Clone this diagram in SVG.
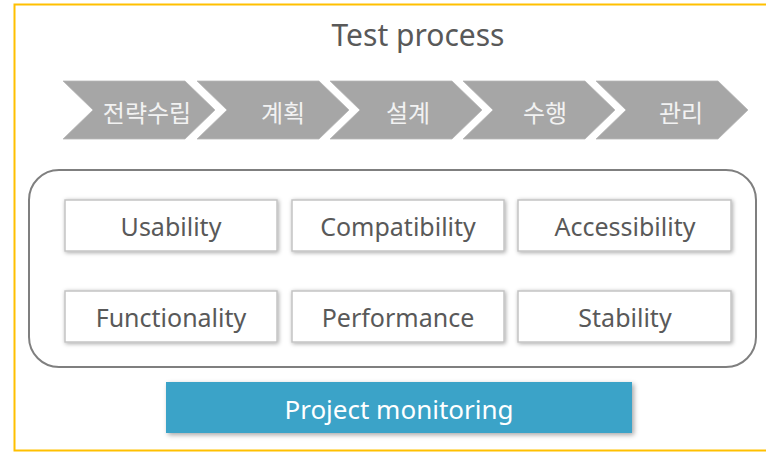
<svg xmlns="http://www.w3.org/2000/svg" width="766" height="453" viewBox="0 0 766 453">
<style>
.title{font-family:"Noto Sans","Noto Sans CJK KR",sans-serif;font-size:30px;fill:#595959;text-anchor:middle}
.chev{fill:#A6A6A6;stroke:#B8B8B8;stroke-width:0.8}
.ctext{font-family:"Noto Sans CJK KR",sans-serif;font-size:24px;fill:#F2F2F2;text-anchor:middle}
.box{fill:#FFFFFF;stroke:#C4C4C4;stroke-width:1.5;filter:url(#sh)}
.btext{font-family:"Noto Sans","Noto Sans CJK KR",sans-serif;font-size:25px;fill:#595959;text-anchor:middle}
.mon{fill:#3AA3C8;filter:url(#sh2)}
.mtext{font-family:"Noto Sans","Noto Sans CJK KR",sans-serif;font-size:26px;fill:#FFFFFF;text-anchor:middle}
</style>
<defs>
<filter id="sh" x="-10%" y="-20%" width="120%" height="140%">
<feDropShadow dx="1" dy="1" stdDeviation="2" flood-color="#000" flood-opacity="0.35"/>
</filter>
<filter id="sh2" x="-10%" y="-20%" width="120%" height="150%">
<feDropShadow dx="2" dy="2" stdDeviation="2.5" flood-color="#000" flood-opacity="0.35"/>
</filter>
</defs>
<rect x="0" y="0" width="766" height="453" fill="#FFFFFF"/>
<rect x="14.5" y="4.5" width="760" height="446" fill="none" stroke="#FFC000" stroke-width="2"/>
<text class="title" x="418" y="46">Test process</text>

<g id="step1"><polygon class="chev" points="63,81 185,81 215,110 185,139 63,139 93,110"/><text class="ctext" x="147" y="122">전략수립</text></g>
<g id="step2"><polygon class="chev" points="197,81 319,81 349,110 319,139 197,139 227,110"/><text class="ctext" x="283" y="122">계획</text></g>
<g id="step3"><polygon class="chev" points="330,81 452,81 482,110 452,139 330,139 360,110"/><text class="ctext" x="408" y="122">설계</text></g>
<g id="step4"><polygon class="chev" points="463,81 585,81 615,110 585,139 463,139 493,110"/><text class="ctext" x="545" y="122">수행</text></g>
<g id="step5"><polygon class="chev" points="596,81 718,81 748,110 718,139 596,139 626,110"/><text class="ctext" x="681" y="122">관리</text></g>

<g id="container"><rect x="29" y="170" width="727" height="197" rx="30" ry="30" fill="none" stroke="#7F7F7F" stroke-width="2"/></g>

<g id="usability"><rect class="box" x="65" y="200" width="212" height="51"/><text class="btext" x="171" y="236">Usability</text></g>
<g id="compatibility"><rect class="box" x="292" y="200" width="212" height="51"/><text class="btext" x="398" y="236">Compatibility</text></g>
<g id="accessibility"><rect class="box" x="518" y="200" width="213" height="51"/><text class="btext" x="625" y="236">Accessibility</text></g>
<g id="functionality"><rect class="box" x="65" y="291" width="212" height="51"/><text class="btext" x="171" y="327">Functionality</text></g>
<g id="performance"><rect class="box" x="292" y="291" width="212" height="51"/><text class="btext" x="398" y="327">Performance</text></g>
<g id="stability"><rect class="box" x="518" y="291" width="213" height="51"/><text class="btext" x="625" y="327">Stability</text></g>

<g id="monitoring"><rect class="mon" x="166" y="382" width="466" height="51"/><text class="mtext" x="399" y="419">Project monitoring</text></g>
<g id="connectors"></g>
</svg>
